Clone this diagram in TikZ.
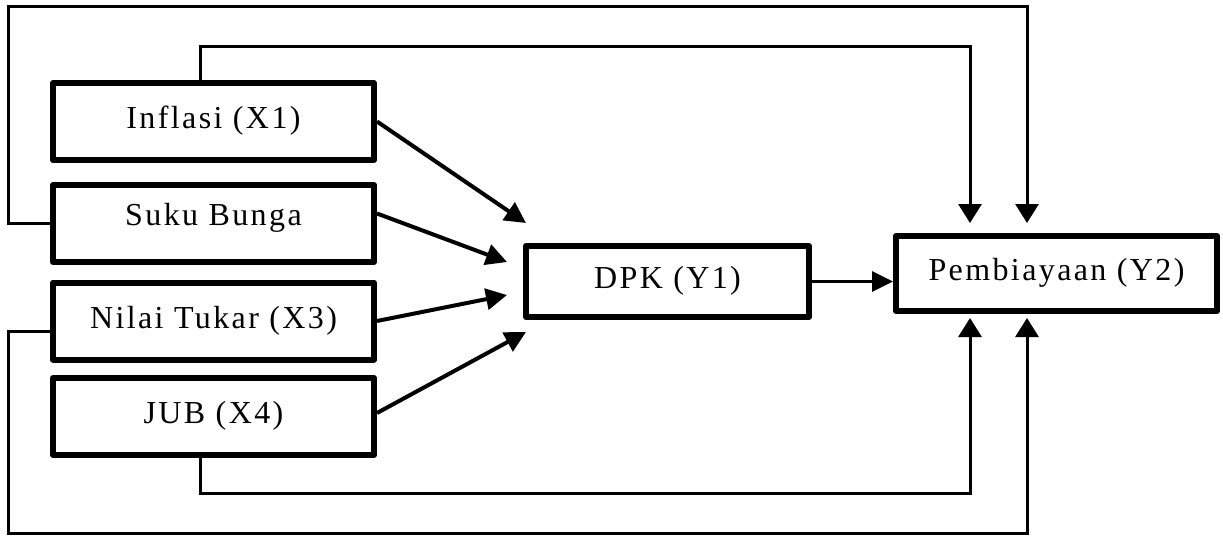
\documentclass[tikz,border=0pt]{standalone}
\usepackage{fontspec}
\setmainfont{Liberation Serif}[LetterSpace=7.5]
\usetikzlibrary{arrows.meta,calc}
\begin{document}
\begin{tikzpicture}[x=1pt,y=-1pt,
  box/.style={draw, line width=6pt, line join=round, inner sep=0pt,
    minimum width=321pt, minimum height=77pt,
    font=\fontsize{32}{38}\selectfont, text height=22.4pt, text depth=8pt},
  fat/.style={line width=4pt, -{Triangle[length=21pt,width=21pt]}},
  link/.style={line width=3pt, line join=miter},
  vhead/.style={-{Triangle[length=19pt,width=23pt]}},
  hhead/.style={line width=3pt, -{Triangle[length=21pt,width=20pt]}}
]
\useasboundingbox (0,0) rectangle (1223,536);

% boxes
\node[box] (x1) at (213.5,121.5) {Inflasi (X1)};
\node[box, text depth=18pt] (x2) at (213.5,223.5) {Suku Bunga};
\node[box] (x3) at (213.5,321) {Nilai Tukar (X3)};
\node[box] (x4) at (213.5,416.5) {JUB (X4)};
\node[box, minimum width=283pt, minimum height=71pt] (dpk) at (667.5,281.5) {DPK (Y1)};
\node[box, minimum width=321pt, minimum height=75pt] (y2) at (1056.5,273.5) {Pembiayaan (Y2)};

% arrow tips and bends
\coordinate (t1) at (526,223);
\coordinate (t2) at (507,262);
\coordinate (t3) at (507,295);
\coordinate (t4) at (526,332);
\coordinate (ytl) at (970,223);
\coordinate (ytr) at (1027,223);
\coordinate (ybl) at (970,318);
\coordinate (ybr) at (1027,318);
\coordinate (a1) at (970,46);
\coordinate (c1) at (8,6);
\coordinate (c2) at (8,533);
\coordinate (c3) at (970,493);

% arrows to DPK
\draw[fat] (x1.east) -- (t1);
\draw[fat] ([yshift=10pt]x2.east) -- (t2);
\draw[fat] (x3.east) -- (t3);
\draw[fat] ([yshift=3.5pt]x4.east) -- (t4);

% DPK to Pembiayaan
\draw[hhead] (dpk.east) -- (dpk.east -| y2.west);

% loops to Pembiayaan
\draw[link, vhead] ([xshift=-13.5pt]x1.north) |- (a1) -- (ytl);
\draw[link, vhead] (x2.west) -| (c1) -| (ytr);
\draw[link, vhead] ([yshift=-10pt]x3.west) -| (c2) -| (ybr);
\draw[link, vhead] ([xshift=-13.5pt]x4.south) |- (c3) -- (ybl);
\end{tikzpicture}
\end{document}
